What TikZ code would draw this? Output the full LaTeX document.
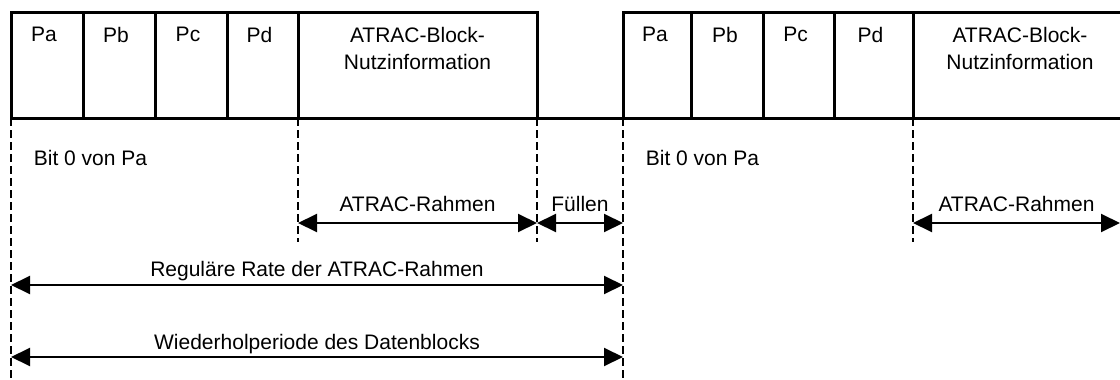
\documentclass[tikz,border=0pt]{standalone}
\usepackage{fontspec}
\setmainfont{Liberation Sans}
\usetikzlibrary{arrows.meta, positioning}
\tikzset{
  every picture/.style={line width=1.8pt},
  cell/.style={draw, line width=3pt, minimum height=106pt, inner sep=0pt, outer sep=0pt, anchor=north west},
  celltext/.style={anchor=north, align=center, inner sep=0pt, yshift=-14pt, font=\fontsize{21}{27}\selectfont},
  guide/.style={dash pattern=on 8pt off 4pt, line width=1.8pt},
  dim/.style={{Triangle[length=19pt, width=18pt]}-{Triangle[length=19pt, width=18pt]}, line width=2pt},
  lbl/.style={inner sep=0pt, anchor=base, font=\fontsize{21}{27}\selectfont},
}

\begin{document}
\begin{tikzpicture}[x=1pt, y=-1pt]
  \useasboundingbox (0,0) rectangle (1120,380);
  \clip (0,0) rectangle (1120,380);
  % first data block
  \node[cell, minimum width=72pt] (pa1) at (11,12) {};
  \node[cell, minimum width=72pt, right=0pt of pa1] (pb1) {};
  \node[cell, minimum width=72pt, right=0pt of pb1] (pc1) {};
  \node[cell, minimum width=71pt, right=0pt of pc1] (pd1) {};
  \node[cell, minimum width=239pt, right=0pt of pd1] (nutz1) {};
  % second data block
  \node[cell, minimum width=68pt] (pa2) at (623,12) {};
  \node[cell, minimum width=72pt, right=0pt of pa2] (pb2) {};
  \node[cell, minimum width=71pt, right=0pt of pb2] (pc2) {};
  \node[cell, minimum width=79pt, right=0pt of pc2] (pd2) {};
  \node[cell, minimum width=214pt, right=0pt of pd2] (nutz2) {};
  \draw[line width=3pt] (nutz1.south east) -- (pa2.south west);
  % cell texts
  \node[celltext, xshift=-3pt] (pa1t) at (pa1.north) {Pa};
  \node[celltext, xshift=-3pt] (pb1t) at (pb1.north) {Pb};
  \node[celltext, xshift=-3pt] (pc1t) at (pc1.north) {Pc};
  \node[celltext, xshift=-3pt] (pd1t) at (pd1.north) {Pd};
  \node[celltext] (nutz1t) at (nutz1.north) {ATRAC-Block-\\Nutzinformation};
  \node[celltext, xshift=-2pt] (pa2t) at (pa2.north) {Pa};
  \node[celltext, xshift=-2pt] (pb2t) at (pb2.north) {Pb};
  \node[celltext, xshift=-3pt] (pc2t) at (pc2.north) {Pc};
  \node[celltext, xshift=-3pt] (pd2t) at (pd2.north) {Pd};
  \node[celltext] (nutz2t) at (nutz2.north) {ATRAC-Block-\\Nutzinformation};
  % rows and ends of the guides
  \coordinate (rowA) at (0,223);
  \coordinate (rowB) at (0,285);
  \coordinate (rowC) at (0,357);
  \coordinate (short) at (0,242);
  \coordinate (low) at (0,380);
  \coordinate (edge) at (1120,0);
  % dashed guides
  \draw[guide] (pa1.south west) -- (pa1.south west |- low);
  \draw[guide] (nutz1.south west) -- (nutz1.south west |- short);
  \draw[guide] (nutz1.south east) -- (nutz1.south east |- short);
  \draw[guide] (pa2.south west) -- (pa2.south west |- low);
  \draw[guide] (nutz2.south west) -- (nutz2.south west |- short);
  \node[lbl, anchor=base west] (bit1) at (33,165) {Bit 0 von Pa};
  \node[lbl, anchor=base west] (bit2) at (645,165) {Bit 0 von Pa};
  % dimension arrows
  \draw[dim] (nutz1.south west |- rowA) -- node[lbl, yshift=12pt] (rahmen1) {ATRAC-Rahmen} (nutz1.south east |- rowA);
  \draw[dim] (nutz1.south east |- rowA) -- node[lbl, yshift=12pt] (fuellen) {Füllen} (pa2.south west |- rowA);
  \draw[dim] (nutz2.south west |- rowA) -- node[lbl, yshift=12pt] (rahmen2) {ATRAC-Rahmen} (edge |- rowA);
  \draw[dim] (pa1.south west |- rowB) -- node[lbl, yshift=9pt] (rate) {Reguläre Rate der ATRAC-Rahmen} (pa2.south west |- rowB);
  \draw[dim] (pa1.south west |- rowC) -- node[lbl, yshift=8pt] (period) {Wiederholperiode des Datenblocks} (pa2.south west |- rowC);
\end{tikzpicture}
\end{document}
